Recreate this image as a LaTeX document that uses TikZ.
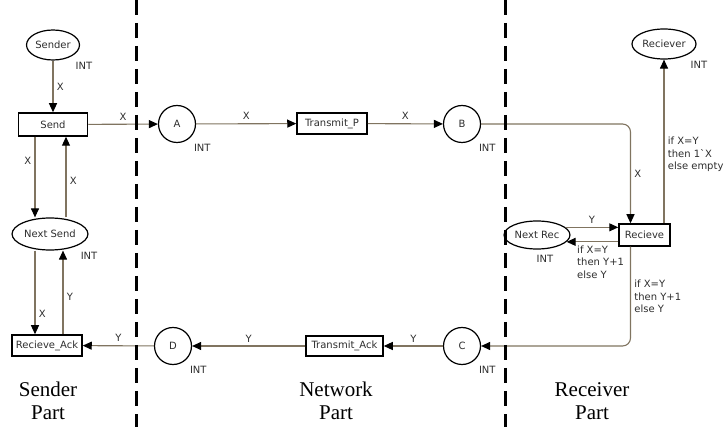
\documentclass[tikz,border=0pt]{standalone}
\usepackage{fontspec}
\setmainfont{Liberation Serif}
\newfontfamily\netfont{DejaVu Sans}
\usetikzlibrary{arrows.meta}
\usetikzlibrary{shapes.geometric}
\usetikzlibrary{positioning}

\definecolor{arccol}{RGB}{128,116,96}
\definecolor{inkcol}{RGB}{45,45,45}

\begin{document}
\begin{tikzpicture}[x=1pt,y=-1pt,
    >={Triangle[length=9pt,width=8pt,color=black]},
    every node/.style={font=\netfont\fontsize{10}{12.5}\selectfont,text=inkcol},
    place/.style={ellipse,draw,line width=1.2pt,inner sep=1pt},
    tok/.style={circle,draw,line width=1.2pt,minimum size=37pt,inner sep=0pt},
    trans/.style={rectangle,draw,line width=1.5pt,inner sep=1pt},
    arc/.style={->,draw=arccol,line width=1.1pt},
    inttype/.style={yshift=-3pt},
    divider/.style={line width=3pt,dash pattern=on 15pt off 8pt},
    part/.style={font=\rmfamily\fontsize{21}{23}\selectfont,text=black,align=center}]
    \useasboundingbox (0,0) rectangle (728,427);

    % sender part
    \node[place,minimum width=52pt,minimum height=30pt,label={[inttype]south east:INT}] (Sender) at (53,45) {Sender};
    \node[trans,minimum width=69pt,minimum height=23pt] (Send) at (53,124.5) {Send};
    \node[place,minimum width=70pt,minimum height=32pt,label={[inttype]south east:INT}] (NextSend) at (50,234) {Next Send};
    \node[trans,minimum width=70pt,minimum height=21pt] (RecAck) at (47,345.5) {Recieve\_Ack};

    % network part
    \node[tok,label={[inttype]south east:INT}] (A) at (177,124) {A};
    \node[trans,minimum width=70pt,minimum height=21pt] (TransP) at (332,123.5) {Transmit\_P};
    \node[tok,label={[inttype]south east:INT}] (B) at (462,124) {B};
    \node[tok,label={[inttype]south east:INT}] (C) at (462,346) {C};
    \node[trans,minimum width=77pt,minimum height=20pt] (TransAck) at (344.5,346) {Transmit\_Ack};
    \node[tok,label={[inttype]south east:INT}] (D) at (173,346) {D};

    % receiver part
    \node[place,minimum width=48pt,minimum height=30pt,label={[inttype]south east:INT}] (Reciever) at (664,44) {Reciever};
    \node[trans,minimum width=51pt,minimum height=22pt] (Recieve) at (644.5,235) {Recieve};
    \node[place,minimum width=60pt,minimum height=28pt,label={[xshift=8pt,yshift=-2pt]below:INT}] (NextRec) at (537,235) {Next Rec};

    % arcs
    \draw[arc] (Sender) -- node[right]{X} (Send);
    \draw[arc] ([xshift=-18pt]Send.south) -- node[pos=0.3,left]{X} ([xshift=-18pt]Send.south |- NextSend.north);
    \draw[arc] ([xshift=13pt]Send.south |- NextSend.north) -- node[pos=0.45,right]{X} ([xshift=13pt]Send.south);
    \draw[arc] ([xshift=-18pt]Send.south |- NextSend.south) -- node[pos=0.76,right]{X} ([xshift=-18pt]Send.south |- RecAck.north);
    \draw[arc] ([xshift=10pt]Send.south |- RecAck.north) -- node[pos=0.45,right]{Y} ([xshift=10pt]Send.south |- NextSend.south);

    \draw[arc] (Send) -- node[above]{X} (A);
    \draw[arc] (A) -- node[above]{X} (TransP);
    \draw[arc] (TransP) -- node[above]{X} (B);
    \draw[arc,rounded corners=8pt] (B) -| node[pos=0.75,right]{X} ([xshift=-14pt]Recieve.north);
    \draw[arc] (Recieve.north -| Reciever.south) -- node[pos=0.42,right,align=left]{if X=Y\\then 1\textasciigrave X\\else empty} (Reciever);
    \draw[arc] (NextRec.15) -- node[above]{Y} (NextRec.15 -| Recieve.west);
    \draw[arc] (Recieve.west |- NextRec.-13) -- node[pos=0.87,anchor=north west,align=left]{if X=Y\\then Y+1\\else Y} (NextRec.-13);
    \draw[arc,rounded corners=8pt] ([xshift=-14pt]Recieve.south) |- node[pos=0.25,right,align=left]{if X=Y\\then Y+1\\else Y} (C);
    \draw[arc] (C) -- node[above]{Y} (TransAck);
    \draw[arc] (TransAck) -- node[above]{Y} (D);
    \draw[arc] (D) -- node[above]{Y} (RecAck);

    % dividers and part names
    \draw[divider] (136,0) -- (136,427);
    \draw[divider] (505,0) -- (505,427);
    \node[part] (senderpart) at (48,401) {Sender\\Part};
    \node[part] (netpart) at (336,401) {Network\\Part};
    \node[part] (recvpart) at (592,401) {Receiver\\Part};
\end{tikzpicture}
\end{document}
